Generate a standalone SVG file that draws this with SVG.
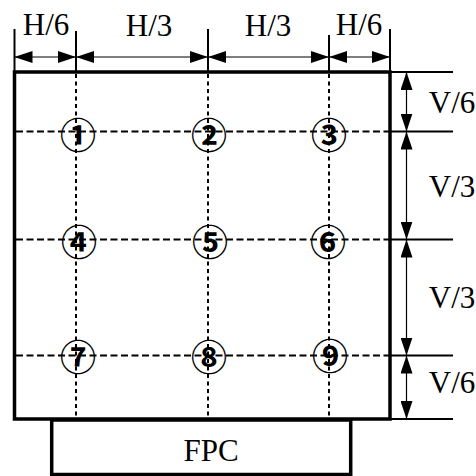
<svg xmlns="http://www.w3.org/2000/svg" width="476" height="476" viewBox="0 0 476 476">
  <defs>
    <marker id="arr" viewBox="0 0 18 12" refX="18" refY="6" markerWidth="18" markerHeight="12" markerUnits="userSpaceOnUse" orient="auto-start-reverse">
      <path d="M0,0 L18,6 L0,12 z" fill="#000"/>
    </marker>
    <style>
      .frame { fill: none; stroke: #000; stroke-width: 3.5; }
      .ext { stroke: #000; stroke-width: 2; fill: none; }
      .dim { stroke: #000; stroke-width: 1.2; fill: none; marker-start: url(#arr); marker-end: url(#arr); }
      .dashh { stroke: #000; stroke-width: 2; stroke-dasharray: 7 3.5; fill: none; }
      .dashv { stroke: #000; stroke-width: 2; stroke-dasharray: 4 3.5; fill: none; }
      .lbl { font-family: "Liberation Serif", "DejaVu Serif", serif; font-size: 31px; fill: #000; text-anchor: middle; }
      .pt { font-family: "Noto Sans CJK SC", "DejaVu Sans", sans-serif; font-size: 36px; font-weight: bold; fill: #000; text-anchor: middle; dominant-baseline: central; }
    </style>
  </defs>

  <g id="panel">
    <rect class="frame" x="14.5" y="72" width="375.5" height="347"/>
  </g>

  <g id="fpc">
    <rect class="frame" x="51.7" y="420" width="299" height="54.5"/>
    <text class="lbl" x="211" y="460.5">FPC</text>
  </g>

  <g id="connectors">
    <line class="ext" x1="14.5" y1="29" x2="14.5" y2="72"/>
    <line class="ext" x1="76" y1="31" x2="76" y2="72"/>
    <line class="ext" x1="208" y1="29" x2="208" y2="72"/>
    <line class="ext" x1="329" y1="35" x2="329" y2="72"/>
    <line class="ext" x1="390" y1="29" x2="390" y2="72"/>
    <line class="ext" x1="390" y1="72" x2="453" y2="72"/>
    <line class="ext" x1="390" y1="131.5" x2="453" y2="131.5"/>
    <line class="ext" x1="390" y1="239.5" x2="453" y2="239.5"/>
    <line class="ext" x1="390" y1="355.5" x2="453" y2="355.5"/>
    <line class="ext" x1="390" y1="419" x2="453" y2="419"/>
    <line class="dashv" x1="76" y1="74" x2="76" y2="418"/>
    <line class="dashv" x1="208" y1="74" x2="208" y2="418"/>
    <line class="dashv" x1="329" y1="74" x2="329" y2="418"/>
    <line class="dashh" x1="16" y1="131.5" x2="389" y2="131.5"/>
    <line class="dashh" x1="16" y1="239.5" x2="389" y2="239.5"/>
    <line class="dashh" x1="16" y1="355.5" x2="389" y2="355.5"/>
    <line class="dim" x1="14.5" y1="57" x2="76" y2="57"/>
    <line class="dim" x1="76" y1="57" x2="208" y2="57"/>
    <line class="dim" x1="208" y1="57" x2="329" y2="57"/>
    <line class="dim" x1="329" y1="57" x2="390" y2="57"/>
    <line class="dim" x1="406.5" y1="72" x2="406.5" y2="131.5"/>
    <line class="dim" x1="406.5" y1="131.5" x2="406.5" y2="239.5"/>
    <line class="dim" x1="406.5" y1="239.5" x2="406.5" y2="355.5"/>
    <line class="dim" x1="406.5" y1="355.5" x2="406.5" y2="419"/>
  </g>

  <g id="labels">
    <text class="lbl" x="46" y="35">H/6</text>
    <text class="lbl" x="149" y="36">H/3</text>
    <text class="lbl" x="268" y="36">H/3</text>
    <text class="lbl" x="359" y="35">H/6</text>
    <text class="lbl" x="452" y="113">V/6</text>
    <text class="lbl" x="452" y="196.5">V/3</text>
    <text class="lbl" x="452" y="308">V/3</text>
    <text class="lbl" x="452" y="393">V/6</text>
  </g>

  <g id="p1"><text class="pt" x="78" y="133">①</text></g>
  <g id="p2"><text class="pt" x="209" y="133">②</text></g>
  <g id="p3"><text class="pt" x="329" y="133">③</text></g>
  <g id="p4"><text class="pt" x="79" y="240">④</text></g>
  <g id="p5"><text class="pt" x="210" y="240">⑤</text></g>
  <g id="p6"><text class="pt" x="328" y="240">⑥</text></g>
  <g id="p7"><text class="pt" x="78" y="355">⑦</text></g>
  <g id="p8"><text class="pt" x="209" y="355">⑧</text></g>
  <g id="p9"><text class="pt" x="330" y="354">⑨</text></g>
</svg>
